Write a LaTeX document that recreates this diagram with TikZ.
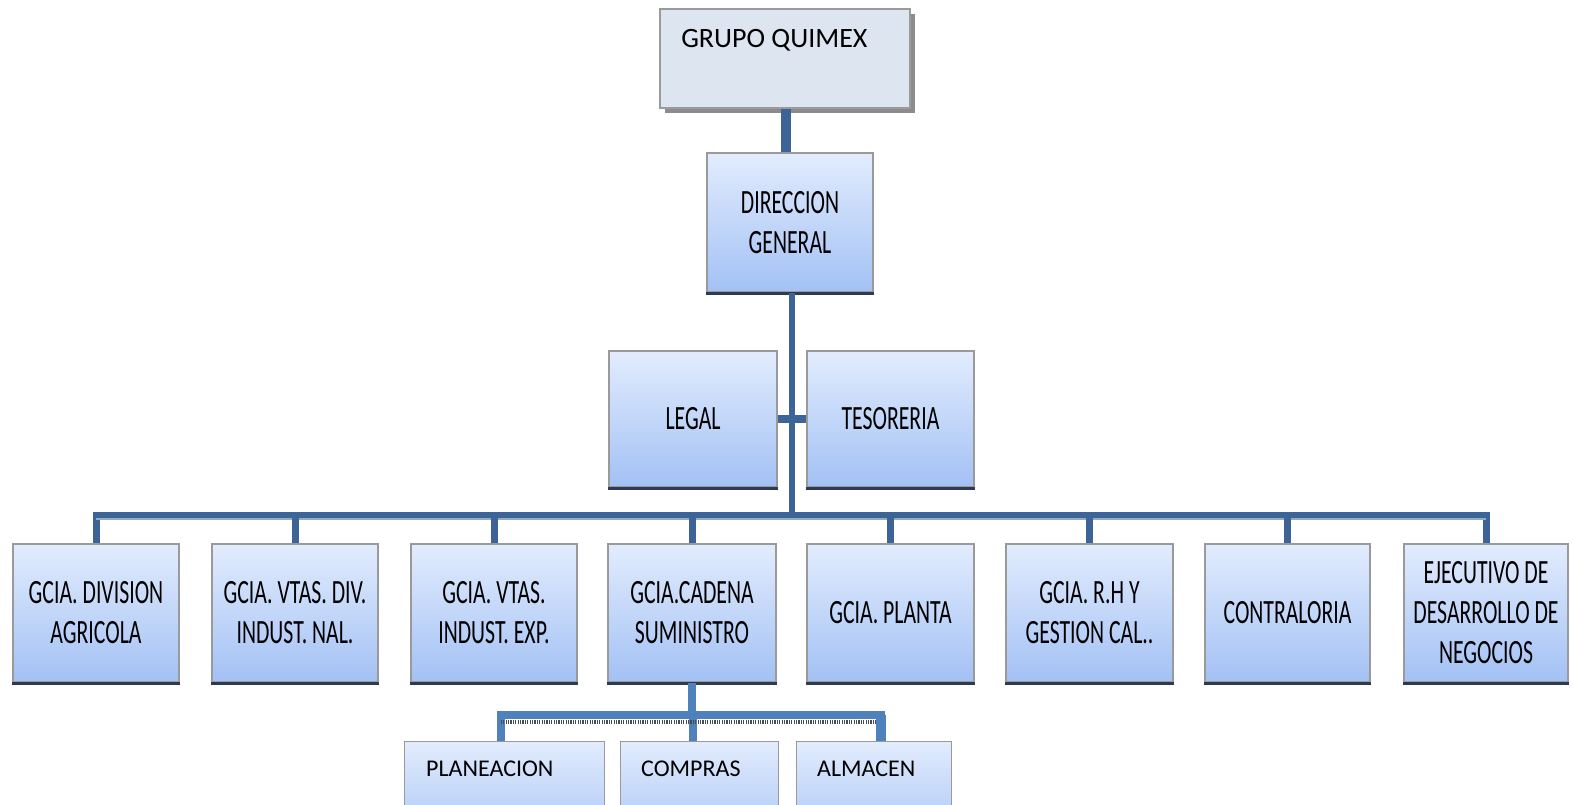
\documentclass[tikz,border=0pt]{standalone}
\usepackage{fontspec}
\setmainfont{Carlito}
\newfontfamily\narrowf[FakeStretch=0.64]{Carlito}
\usetikzlibrary{calc}
\definecolor{conn}{HTML}{3C6496}
\definecolor{subconn}{HTML}{4F81BD}
\definecolor{boxtop}{HTML}{E2ECFD}
\definecolor{boxbot}{HTML}{A3C1F5}
\definecolor{edgegray}{HTML}{9A9A9A}
\definecolor{edgedark}{HTML}{2E3A50}
\definecolor{gqfill}{HTML}{DCE5F0}
\tikzset{
  x=1pt,y=-1pt,
  orgbox/.style={rectangle, draw=edgegray, line width=1.6pt, top color=boxtop, bottom color=boxbot,
    minimum width=166pt, minimum height=138pt, inner sep=0pt, align=center,
    font=\narrowf\fontsize{34}{40}\selectfont},
  subbox/.style={rectangle, draw=edgegray, line width=1.4pt, top color=boxtop, bottom color=boxbot!80!boxtop,
    minimum height=90pt, inner sep=0pt, anchor=north west},
  subtext/.style={font=\fontsize{24}{28}\selectfont, inner sep=0pt, anchor=base west},
  connline/.style={draw=conn, line width=7pt},
  subline/.style={draw=subconn, line width=8pt},
  darkedge/.style={draw=edgedark, line width=3pt},
}
\begin{document}
\begin{tikzpicture}
\clip (0,0) rectangle (1573,804);
\fill[white] (0,0) rectangle (1573,804);

% top box
\fill[gray!90] (665,14) rectangle (915,113);
\node[rectangle, draw=edgegray, line width=1.8pt, fill=gqfill, minimum width=250pt, minimum height=99pt, inner sep=0pt] (gq) at (785,58.5) {};
\node[subtext, font=\fontsize{28}{32}\selectfont] (gqt) at ($(gq.north west)+(22,39)$) {GRUPO QUIMEX};

% direccion general
\node[orgbox, minimum height=139pt] (dg) at (790,222.5) {DIRECCION\\GENERAL};

% legal / tesoreria
\node[orgbox, minimum width=168pt, minimum height=136pt] (legal) at (693,419) {LEGAL};
\node[orgbox, minimum width=167pt, minimum height=136pt] (teso) at (890.5,419) {TESORERIA};

% second row
\node[orgbox] (r1) at (96,613) {GCIA. DIVISION\\AGRICOLA};
\node[orgbox] (r2) at (295,613) {GCIA. VTAS. DIV.\\INDUST. NAL.};
\node[orgbox] (r3) at (494,613) {GCIA. VTAS.\\INDUST. EXP.};
\node[orgbox, minimum width=168pt] (r4) at (692,613) {GCIA.CADENA\\SUMINISTRO};
\node[orgbox, minimum width=167pt] (r5) at (890.5,613) {GCIA. PLANTA};
\node[orgbox, minimum width=167pt] (r6) at (1089.5,613) {GCIA. R.H Y\\GESTION CAL..};
\node[orgbox, minimum width=165pt] (r7) at (1287.5,613) {CONTRALORIA};
\node[orgbox, minimum width=164pt] (r8) at (1486,613) {EJECUTIVO DE\\DESARROLLO DE\\NEGOCIOS};

% bottom row
\node[subbox, minimum width=200pt] (plan) at (404,741) {};
\node[subbox, minimum width=158pt] (comp) at (620,741) {};
\node[subbox, minimum width=155pt] (alm) at (796,741) {};
\node[subtext] (plant) at ($(plan.north west)+(22,35)$) {PLANEACION};
\node[subtext] (compt) at ($(comp.north west)+(21,35)$) {COMPRAS};
\node[subtext] (almt) at ($(alm.north west)+(21,35)$) {ALMACEN};

% dark bottom edges
\foreach \n in {dg,legal,teso,r1,r2,r3,r4,r5,r6,r7,r8}
  \draw[darkedge] ([yshift=-1pt]\n.south west) -- ([yshift=-1pt]\n.south east);

% connectors
\draw[connline, line width=10pt] ([xshift=1pt]gq.south) -- ([xshift=1pt]gq.south |- dg.north);
\draw[connline, line width=6pt] ([xshift=2pt]dg.south) -- ([xshift=2pt]dg.south |- 0,515);
\draw[connline, line width=8pt] (legal.east) -- (teso.west);
\draw[connline] (r1.north) -- (r1.north |- 0,515) -| (r8.north);
\draw[draw=conn!55!white, line width=2.5pt] (r1.north |- 0,519) -- (r8.north |- 0,519);
\foreach \n in {r2,r3,r4,r5,r6,r7}
  \draw[connline] (\n.north) -- (\n.north |- 0,515);

\draw[subline] (r4.south) -- (r4.south |- 0,715);
\draw[subline] ([xshift=-4pt]plan.north) -- ([xshift=-4pt]plan.north |- 0,715) -| ([xshift=7pt]alm.north);
\draw[subline, line width=10pt] ([xshift=7pt]alm.north) -- ([xshift=7pt]alm.north |- 0,715);
\draw[subline] ([xshift=-7pt]comp.north) -- ([xshift=-7pt]comp.north |- 0,715);
\draw[draw=gray!60!black, line width=4pt, dash pattern=on 1.2pt off 1.2pt] ([xshift=-4pt]plan.north |- 0,722) -- ([xshift=2pt]alm.north |- 0,722);
\end{tikzpicture}
\end{document}
